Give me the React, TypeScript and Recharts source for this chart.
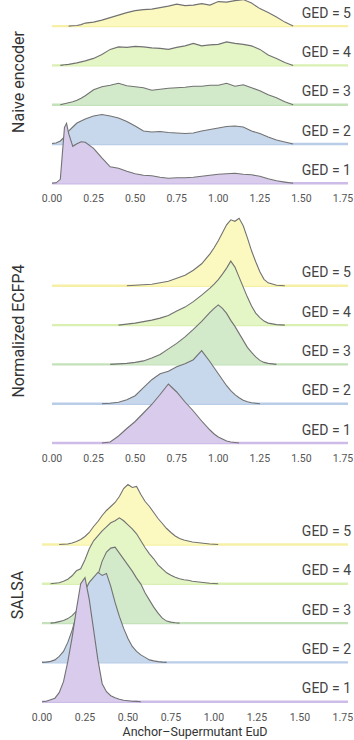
import React from 'react';
import { AreaChart, Area, XAxis, YAxis, ReferenceLine } from 'recharts';

const _ = null;

// ridge spacing (in the chart's y units)
const ROW = 39.3;

const X_TICKS = [0, 0.25, 0.5, 0.75, 1, 1.25, 1.5, 1.75];
const GED_LABELS = ['GED = 1', 'GED = 2', 'GED = 3', 'GED = 4', 'GED = 5'];
const PANEL_TITLES = ['Naive encoder', 'Normalized ECFP4', 'SALSA'];
const X_TITLE = 'Anchor\u2013Supermutant EuD';

const FILLS = ['#d8cbec', '#c7d7ec', '#d2e9ca', '#e4f5c6', '#fcf9c0'];
const BASE_COLORS = ['#cdbce8', '#b9cce8', '#c3e2b9', '#d9f0b2', '#f6f0a6'];
const OUTLINE = '#727272';
const FONT = 'Roboto, "Open Sans", "DejaVu Sans", sans-serif';

// ---------- Panel 1: Naive encoder ----------
const P1_X = [0, 0.025, 0.05, 0.0625, 0.075, 0.0875, 0.1, 0.125, 0.15, 0.175, 0.2, 0.25, 0.3, 0.35, 0.4, 0.45, 0.5, 0.55, 0.6, 0.65, 0.7, 0.75, 0.8, 0.85, 0.9, 0.95, 1.0, 1.05, 1.1, 1.15, 1.2, 1.25, 1.3, 1.35, 1.4, 1.45, 1.5, 1.78];
const P1_GED1 = [0, 0.5, 4, 30, 56, 60, 50, 37, 39.5, 41.5, 41, 35, 25.5, 16.5, 15, 12, 9.5, 8, 7.5, 6, 5, 5.5, 5.5, 6, 7, 8, 9, 9.5, 10, 9, 8.5, 7, 4.5, 2.5, 1.2, 0, _, _];
const P1_GED2 = [0.5, 1, 3, 5, 7, 10, 13, 17, 21, 23, 25, 28, 29.5, 28, 26, 22.5, 18, 13, 12, 12.5, 11.5, 11, 10.5, 11, 13, 14.5, 16, 17.5, 18, 17, 13, 10.5, 7, 4, 2, 0, _, _];
const P1_GED3 = [_, _, 0, 0.5, 1, 1.5, 2, 3, 4.5, 6.5, 9, 15, 18, 19.5, 21.5, 19, 18, 17, 14.5, 15.5, 16.5, 17, 17.5, 18.5, 18.5, 19.5, 19.5, 21.5, 18.5, 20, 17, 14, 10, 7, 3, 0, _, _];
const P1_GED4 = [_, _, 0, 0.3, 0.6, 0.8, 1, 1.8, 2.5, 3.5, 4.5, 7, 11, 16, 18.5, 18, 19, 18.5, 17.5, 17, 16, 18, 19.5, 22, 19.5, 20.5, 21, 23.5, 22, 21, 19.5, 16, 10.5, 7, 3, 0, _, _];
const P1_GED5 = [_, _, _, _, _, _, 0, 0.3, 0.6, 1.5, 3, 4, 6, 8.5, 11, 13.5, 15.5, 16.5, 17, 18.5, 20, 22, 20.5, 21, 22.5, 21, 24.5, 24, 25.5, 26.5, 23, 17.5, 13.5, 9, 4, 0, _, _];

// ---------- Panel 2: Normalized ECFP4 ----------
const P2_X = [0, 0.3, 0.35, 0.4, 0.45, 0.5, 0.55, 0.6, 0.65, 0.7, 0.75, 0.8, 0.85, 0.9, 0.95, 0.975, 1.0, 1.025, 1.05, 1.075, 1.1, 1.125, 1.15, 1.175, 1.2, 1.225, 1.25, 1.275, 1.3, 1.35, 1.4, 1.45, 1.78];
const P2_GED1 = [_, 0, 1, 7, 14.5, 21.5, 30, 38.5, 48.5, 59, 51, 41, 32, 22, 13, 9, 6, 4, 2, 1, 0.5, 0, _, _, _, _, _, _, _, _, _, _, _];
const P2_GED2 = [_, 0, 0.5, 1.5, 4, 8, 16, 24, 30, 32.5, 37, 40, 44, 53, 42, 36, 30, 24, 18, 13, 9, 6, 3.5, 2, 1, 0.5, 0, _, _, _, _, _, _];
const P2_GED3 = [_, _, 0, 0.5, 1, 2, 3.5, 6.5, 10, 15.5, 21, 27.5, 35, 43, 52, 56, 59.5, 56, 51, 44, 38, 31, 24, 17, 12, 7.5, 4, 2, 1, 0, _, _, _];
const P2_GED4 = [_, _, _, 0, 1, 2, 3.5, 5, 7, 9.5, 14, 18, 23.5, 30, 37, 41, 45.5, 51, 57, 64, 58, 48, 38, 28, 19, 12, 7.5, 4, 2, 0.5, 0, _, _];
const P2_GED5 = [_, _, _, _, 0, 0.5, 1, 1.5, 3, 4.5, 7.5, 10.5, 15.5, 22, 32, 38, 45, 53, 61, 66, 64.5, 67.5, 60, 48, 35, 24, 14, 6.5, 3, 0.5, 0, _, _];

// ---------- Panel 3: SALSA ----------
const P3_X = [0, 0.025, 0.05, 0.075, 0.1, 0.125, 0.15, 0.175, 0.2, 0.225, 0.25, 0.275, 0.3, 0.325, 0.35, 0.375, 0.4, 0.425, 0.45, 0.475, 0.5, 0.525, 0.55, 0.575, 0.6, 0.625, 0.65, 0.675, 0.7, 0.725, 0.75, 0.775, 0.8, 0.825, 0.85, 0.875, 0.9, 0.925, 0.95, 0.975, 1.0, 1.025, 1.05, 1.78];
const P3_GED1 = [0, 0.5, 2, 3.5, 9, 20, 40, 64, 92, 118, 124, 102, 72, 42, 18, 10, 6, 4, 2.5, 1.5, 1, 0.5, 0.3, 0, _, _, _, _, _, _, _, _, _, _, _, _, _, _, _, _, _, _, _, _];
const P3_GED2 = [0, 0.3, 1, 2.5, 6, 11, 20, 32, 47, 60, 72, 80, 85, 90, 87, 89, 76, 60, 46, 34, 24, 16, 11, 7.5, 5, 2.5, 1.5, 0.8, 0.3, 0, _, _, _, _, _, _, _, _, _, _, _, _, _, _];
const P3_GED3 = [_, _, 0, 0.5, 1.5, 2.5, 4.5, 7.5, 12, 18, 26, 34, 41, 48, 62, 71, 75, 76, 70, 64, 58, 52, 45, 39, 30, 23, 16, 10, 5, 2, 1, 0.3, 0, _, _, _, _, _, _, _, _, _, _, _];
const P3_GED4 = [_, _, 0, 0.5, 1, 2.5, 4.5, 8, 13, 15, 24, 35, 43, 48, 53, 57, 61, 63, 66, 63, 59, 55, 50, 43, 36, 30, 25, 19, 15, 11, 8.5, 6.5, 5, 4, 3.5, 2.5, 2, 1.5, 1, 0.5, 0.3, 0, _, _];
const P3_GED5 = [_, _, _, _, 0, 0.3, 0.5, 1.5, 3, 5, 8, 12, 18, 23, 29, 34, 38, 42, 48, 56, 60, 57, 58, 50, 43, 38, 32, 26, 21, 16, 12, 8.5, 6, 4.5, 3.5, 2.5, 2, 1.5, 1, 0.5, 0.3, 0, _, _];

type Row = { x: number; g: (number | null)[] };

function buildRows(xs: number[], series: (number | null)[][]): Row[] {
  return xs.map((x, i) => ({ x, g: series.map((s) => s[i]) }));
}

const ROWS1 = buildRows(P1_X, [P1_GED1, P1_GED2, P1_GED3, P1_GED4, P1_GED5]);
const ROWS2 = buildRows(P2_X, [P2_GED1, P2_GED2, P2_GED3, P2_GED4, P2_GED5]);
const ROWS3 = buildRows(P3_X, [P3_GED1, P3_GED2, P3_GED3, P3_GED4, P3_GED5]);

const ORDER = [4, 3, 2, 1, 0]; // draw GED=5 first, GED=1 last (on top)
const OFFSETS = [0, 1, 2, 3, 4].map((k) => k * ROW);

const BASE_KEYS = OFFSETS.map((off) => (_r: Row) => [off - 1.2, off + 1.2]);
const DENS_KEYS = OFFSETS.map((off, k) => (r: Row) => (r.g[k] == null ? null : off + (r.g[k] as number)));

const GED_LABEL_RENDER = GED_LABELS.map((txt) => (p: any) => {
  const vb = p.viewBox || {};
  return (
    <text x={vb.x + vb.width + 3} y={vb.y - 13.5} textAnchor="end" dominantBaseline="central" fontSize={14} fill="#444" fontFamily={FONT}>
      {txt}
    </text>
  );
});

const TITLE_Y = [82, 121, 125];
const TITLE_RENDER = PANEL_TITLES.map((txt, i) => () => (
  <text x={18} y={TITLE_Y[i]} transform={`rotate(-90 18 ${TITLE_Y[i]})`} textAnchor="middle" dominantBaseline="central" fontSize={16} fill="#333" fontFamily={FONT}>
    {txt}
  </text>
));

const fmt = (v: number) => v.toFixed(2);
const TICK_STYLE = { fontSize: 10.5, fill: '#555', fontFamily: FONT };
const MARGIN = { top: 0, right: 6, bottom: 0, left: 0 };
const X_DOMAIN: [number, number] = [0, 1.78];
const X_LABEL = { value: X_TITLE, position: 'insideBottom', offset: 3, fontSize: 12.5, fill: '#333', fontFamily: FONT };

type PanelProps = {
  top: number;
  height: number;
  leftW: number;
  yDomain: [number, number];
  rows: Row[];
  idx: number;
  xH: number;
  withXTitle?: boolean;
};

function Panel({ top, height, leftW, yDomain, rows, idx, xH, withXTitle }: PanelProps) {
  return (
    <div style={{ position: 'absolute', left: 0, top }}>
      <AreaChart width={354} height={height} data={rows} margin={MARGIN}>
        <XAxis
          type="number"
          dataKey="x"
          domain={X_DOMAIN}
          allowDataOverflow
          ticks={X_TICKS}
          interval={0}
          tickFormatter={fmt}
          axisLine={false}
          tickLine={false}
          tick={TICK_STYLE}
          height={xH}
          label={withXTitle ? (X_LABEL as any) : undefined}
        />
        <YAxis
          type="number"
          domain={yDomain}
          allowDataOverflow
          width={leftW}
          tick={false}
          axisLine={false}
          tickLine={false}
          label={TITLE_RENDER[idx]}
        />
        {ORDER.map((k) => (
          <Area
            key={'base' + k}
            type="linear"
            dataKey={BASE_KEYS[k]}
            fill={BASE_COLORS[k]}
            fillOpacity={1}
            stroke="none"
            dot={false}
            activeDot={false}
            isAnimationActive={false}
          />
        ))}
        {ORDER.map((k) => (
          <Area
            key={'dens' + k}
            type="linear"
            dataKey={DENS_KEYS[k]}
            baseValue={OFFSETS[k]}
            fill={FILLS[k]}
            fillOpacity={1}
            stroke={OUTLINE}
            strokeWidth={1.1}
            dot={false}
            activeDot={false}
            isAnimationActive={false}
          />
        ))}
        {OFFSETS.map((off, k) => (
          <ReferenceLine key={'lab' + k} y={off} stroke="none" label={GED_LABEL_RENDER[k]} />
        ))}
      </AreaChart>
    </div>
  );
}

const DOM1: [number, number] = [-3.7, 183.3];
const DOM2: [number, number] = [-4, 233];
const DOM3: [number, number] = [-3.7, 231.7];

export default function App() {
  return (
    <div style={{ position: 'absolute', left: 0, top: 0, width: 354, height: 740, background: '#fff', fontFamily: FONT }}>
      <Panel top={0} height={210} leftW={52} yDomain={DOM1} rows={ROWS1} idx={0} xH={23} />
      <Panel top={210} height={260} leftW={52} yDomain={DOM2} rows={ROWS2} idx={1} xH={23} />
      <Panel top={470} height={269.4} leftW={42} yDomain={DOM3} rows={ROWS3} idx={2} xH={34} withXTitle />
    </div>
  );
}
